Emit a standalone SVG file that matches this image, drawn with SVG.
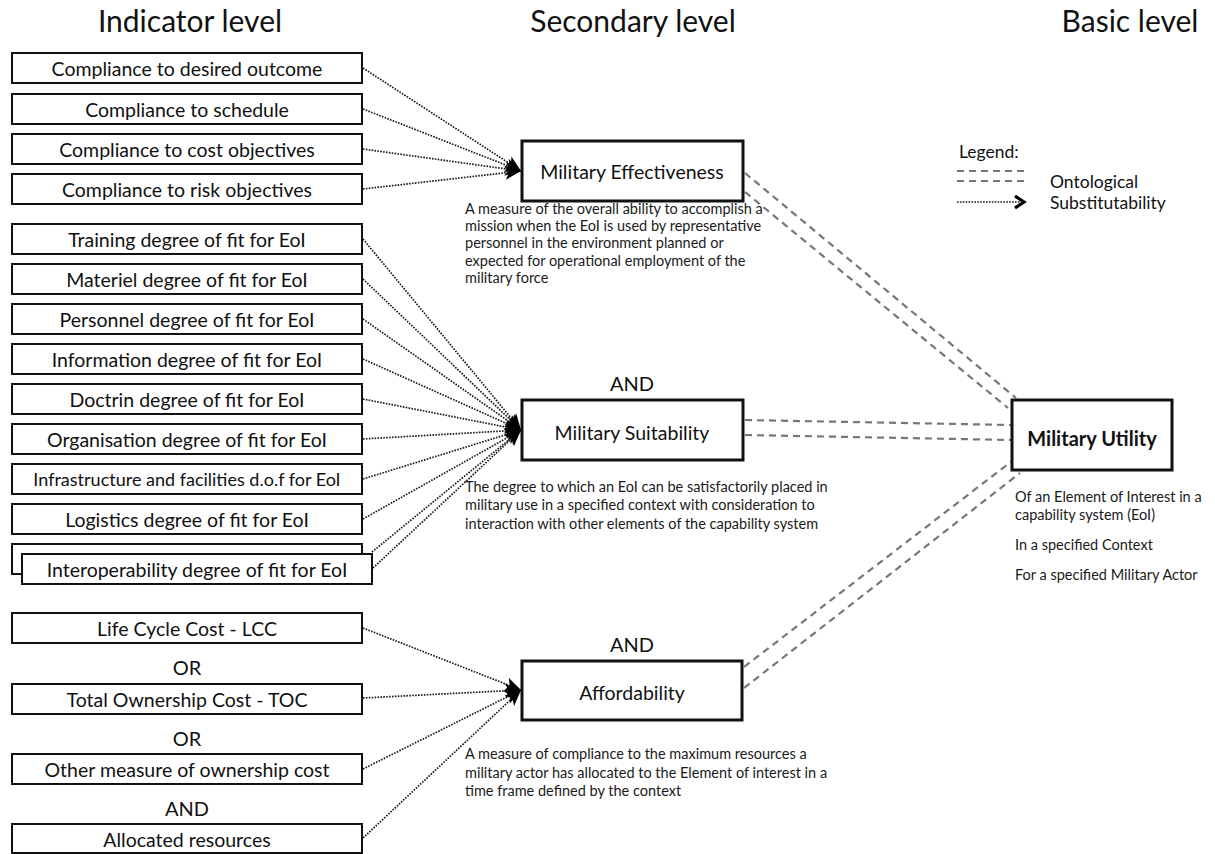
<svg xmlns="http://www.w3.org/2000/svg" width="1215" height="854" viewBox="0 0 1215 854">
<style>
text{font-family:Lato,"Open Sans","Liberation Sans",sans-serif;fill:#111}
.title{font-size:30px;text-anchor:middle}
.box{fill:#fff;stroke:#111;stroke-width:2}
.mbox{fill:#fff;stroke:#111;stroke-width:3}
.lbl{font-size:19.5px;text-anchor:middle;dominant-baseline:central}
.mlbl{font-size:19.5px;text-anchor:middle;dominant-baseline:central}
.op{font-size:20px;text-anchor:middle;dominant-baseline:central}
.desc{font-size:14.5px;fill:#1a1a1a}
.leg{font-size:17.5px}
.dot{fill:none;stroke:#1a1a1a;stroke-width:1.7;stroke-dasharray:1.6 1.3}
.dash{fill:none;stroke:#777;stroke-width:2.2;stroke-dasharray:7 5}
</style>
<defs>
<marker id="ah" markerUnits="userSpaceOnUse" markerWidth="18" markerHeight="18" viewBox="0 0 18 18" refX="17" refY="9" orient="auto">
<path d="M1,2 L17,9 L1,16 L5,9 z" fill="#000"/>
</marker>
<marker id="chev" markerUnits="userSpaceOnUse" markerWidth="16" markerHeight="16" viewBox="0 0 16 16" refX="13" refY="8" orient="auto">
<path d="M4,2 L13,8 L4,14" fill="none" stroke="#000" stroke-width="3.2"/>
</marker>
</defs>

<text class="title" x="190" y="32">Indicator level</text>
<text class="title" x="633" y="32">Secondary level</text>
<text class="title" x="1130" y="32">Basic level</text>

<g id="connectors">
<path class="dot" d="M363,68 L521,171" marker-end="url(#ah)"/>
<path class="dot" d="M363,109 L521,171" marker-end="url(#ah)"/>
<path class="dot" d="M363,149 L521,171" marker-end="url(#ah)"/>
<path class="dot" d="M363,189 L521,171" marker-end="url(#ah)"/>
<path class="dot" d="M363,239 L521,430" marker-end="url(#ah)"/>
<path class="dot" d="M363,279 L521,430" marker-end="url(#ah)"/>
<path class="dot" d="M363,319 L521,430" marker-end="url(#ah)"/>
<path class="dot" d="M363,359 L521,430" marker-end="url(#ah)"/>
<path class="dot" d="M363,399 L521,430" marker-end="url(#ah)"/>
<path class="dot" d="M363,439 L521,430" marker-end="url(#ah)"/>
<path class="dot" d="M363,479 L521,430" marker-end="url(#ah)"/>
<path class="dot" d="M363,519 L521,430" marker-end="url(#ah)"/>
<path class="dot" d="M372,552 L521,430" marker-end="url(#ah)"/>
<path class="dot" d="M373,568 L521,430" marker-end="url(#ah)"/>
<path class="dot" d="M363,628 L521,690" marker-end="url(#ah)"/>
<path class="dot" d="M363,698 L521,690" marker-end="url(#ah)"/>
<path class="dot" d="M363,769 L521,690" marker-end="url(#ah)"/>
<path class="dot" d="M363,838 L521,690" marker-end="url(#ah)"/>
<path class="dash" d="M745,173 L1016,398"/>
<path class="dash" d="M745,192 L1008,408"/>
<path class="dash" d="M745,420 L1011,425"/>
<path class="dash" d="M745,435 L1011,440"/>
<path class="dash" d="M744,667 L1012,461"/>
<path class="dash" d="M744,688 L1020,473"/>
</g>

<g id="n-desired"><rect class="box" x="12" y="53" width="350" height="30"/><text class="lbl" x="187" y="68">Compliance to desired outcome</text></g>
<g id="n-schedule"><rect class="box" x="12" y="94" width="350" height="30"/><text class="lbl" x="187" y="109">Compliance to schedule</text></g>
<g id="n-cost"><rect class="box" x="12" y="134" width="350" height="30"/><text class="lbl" x="187" y="149">Compliance to cost objectives</text></g>
<g id="n-risk"><rect class="box" x="12" y="174" width="350" height="30"/><text class="lbl" x="187" y="189">Compliance to risk objectives</text></g>
<g id="n-training"><rect class="box" x="12" y="224" width="350" height="30"/><text class="lbl" x="187" y="239">Training degree of fit for EoI</text></g>
<g id="n-materiel"><rect class="box" x="12" y="264" width="350" height="30"/><text class="lbl" x="187" y="279">Materiel degree of fit for EoI</text></g>
<g id="n-personnel"><rect class="box" x="12" y="304" width="350" height="30"/><text class="lbl" x="187" y="319">Personnel degree of fit for EoI</text></g>
<g id="n-information"><rect class="box" x="12" y="344" width="350" height="30"/><text class="lbl" x="187" y="359">Information degree of fit for EoI</text></g>
<g id="n-doctrin"><rect class="box" x="12" y="384" width="350" height="30"/><text class="lbl" x="187" y="399">Doctrin degree of fit for EoI</text></g>
<g id="n-organisation"><rect class="box" x="12" y="424" width="350" height="30"/><text class="lbl" x="187" y="439">Organisation degree of fit for EoI</text></g>
<g id="n-infrastructure"><rect class="box" x="12" y="464" width="350" height="30"/><text class="lbl" x="187" y="479" style="font-size:18px">Infrastructure and facilities d.o.f for EoI</text></g>
<g id="n-logistics"><rect class="box" x="12" y="504" width="350" height="30"/><text class="lbl" x="187" y="519">Logistics degree of fit for EoI</text></g>
<g id="n-hidden"><rect class="box" x="12" y="544" width="350" height="30"/></g>
<g id="n-interoperability"><rect class="box" x="22" y="554" width="350" height="30"/><text class="lbl" x="197" y="569">Interoperability degree of fit for EoI</text></g>
<g id="n-lcc"><rect class="box" x="12" y="613" width="350" height="30"/><text class="lbl" x="187" y="628">Life Cycle Cost - LCC</text></g>
<text class="op" x="187" y="667">OR</text>
<g id="n-toc"><rect class="box" x="12" y="684" width="350" height="30"/><text class="lbl" x="187" y="699">Total Ownership Cost - TOC</text></g>
<text class="op" x="187" y="738">OR</text>
<g id="n-other"><rect class="box" x="12" y="754" width="350" height="30"/><text class="lbl" x="187" y="769">Other measure of ownership cost</text></g>
<text class="op" x="187" y="808">AND</text>
<g id="n-allocated"><rect class="box" x="12" y="824" width="350" height="29"/><text class="lbl" x="187" y="839">Allocated resources</text></g>

<g id="n-effectiveness">
<rect class="mbox" x="522" y="141" width="221" height="60"/>
<text class="mlbl" x="632" y="171">Military Effectiveness</text>
<text class="desc" x="465" y="214">A measure of the overall ability to accomplish a</text>
<text class="desc" x="465" y="231">mission when the EoI is used by representative</text>
<text class="desc" x="465" y="248">personnel in the environment planned or</text>
<text class="desc" x="465" y="266">expected for operational employment of the</text>
<text class="desc" x="465" y="283">military force</text>
</g>

<g id="n-suitability">
<text class="op" x="632" y="383">AND</text>
<rect class="mbox" x="522" y="400" width="221" height="60"/>
<text class="mlbl" x="632" y="432">Military Suitability</text>
<text class="desc" x="465" y="492">The degree to which an EoI can be satisfactorily placed in</text>
<text class="desc" x="465" y="510">military use in a specified context with consideration to</text>
<text class="desc" x="465" y="529">interaction with other elements of the capability system</text>
</g>

<g id="n-affordability">
<text class="op" x="632" y="644">AND</text>
<rect class="mbox" x="522" y="661" width="220" height="59"/>
<text class="mlbl" x="632" y="692">Affordability</text>
<text class="desc" x="465" y="759">A measure of compliance to the maximum resources a</text>
<text class="desc" x="465" y="778">military actor has allocated to the Element of interest in a</text>
<text class="desc" x="465" y="796">time frame defined by the context</text>
</g>

<g id="n-utility">
<rect class="mbox" x="1012" y="400" width="160" height="70"/>
<text class="mlbl" x="1092" y="438" style="font-weight:bold;font-size:20px">Military Utility</text>
<text class="desc" x="1015" y="502">Of an Element of Interest in a</text>
<text class="desc" x="1015" y="520">capability system (EoI)</text>
<text class="desc" x="1015" y="550">In a specified Context</text>
<text class="desc" x="1015" y="580">For a specified Military Actor</text>
</g>

<g id="legend">
<text class="leg" x="959" y="158">Legend:</text>
<path class="dash" d="M957,171 L1028,171"/>
<path class="dash" d="M957,181 L1028,181"/>
<path class="dot" d="M957,202 L1024,202" marker-end="url(#chev)"/>
<text class="leg" x="1050" y="188">Ontological</text>
<text class="leg" x="1050" y="209">Substitutability</text>
</g>
</svg>
